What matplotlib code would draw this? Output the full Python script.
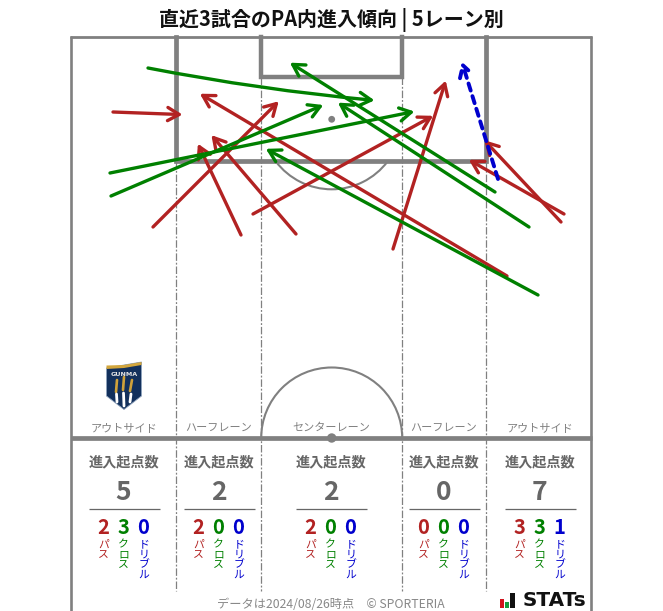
#!/usr/bin/env python3
import numpy as np
import matplotlib
matplotlib.use('Agg')
import matplotlib.pyplot as plt
from matplotlib.patches import Arc, Circle, FancyArrowPatch, Polygon, Rectangle

plt.rcParams['font.family'] = ['Noto Sans CJK JP', 'DejaVu Sans']

# Data (px on the 663x611 image)
red_starts = [(113, 112), (507, 276), (153, 227), (241, 235), (296, 234),
              (253, 214), (393, 249), (564, 214), (561, 222)]
red_ends = [(180, 114.5), (202, 95), (277, 103), (199, 146), (213, 137),
            (431, 117), (445, 83), (471, 161), (486, 142)]
green_starts = [(148, 68), (110, 173), (111, 196), (495, 192), (529, 227), (538, 295)]
green_ends = [(372, 100), (412, 112), (321, 106), (292, 64), (340, 104), (268, 150)]
blue_starts = [(498, 179)]
blue_ends = [(462.5, 64)]

lane_names = ['アウトサイド', 'ハーフレーン', 'センターレーン', 'ハーフレーン', 'アウトサイド']
lane_centers = [124, 219, 331, 444, 540]
lane_lines = [175.8, 261.2, 402, 486.2]
totals = [5, 2, 2, 0, 7]
passes = [2, 2, 2, 0, 3]
crosses = [3, 0, 0, 0, 3]
dribbles = [0, 0, 0, 0, 1]

GRAY = '#808080'
DARK = '#666666'
RED = '#b22222'
GREEN = '#008000'
BLUE = '#0000cd'

fig = plt.figure(figsize=(6.63, 6.11), dpi=100)
ax = fig.add_axes([0, 0, 1, 1])
ax.set_xlim(0, 663)
ax.set_ylim(611, 0)
ax.axis('off')

ax.text(331, 20, '直近3試合のPA内進入傾向 | 5レーン別', ha='center', va='center',
        fontsize=14.4, fontweight='bold', color='#111111')

# pitch
ax.plot([71.4, 71.4], [36, 611], color=GRAY, lw=1.9, solid_capstyle='butt')
ax.plot([591, 591], [36, 611], color=GRAY, lw=1.9, solid_capstyle='butt')
ax.plot([70, 592.3], [36.5, 36.5], color=GRAY, lw=2, solid_capstyle='butt')
ax.plot([71, 592], [438, 438], color=GRAY, lw=3.4, solid_capstyle='butt')
ax.plot([175.9, 175.9, 486.2, 486.2], [37, 161.2, 161.2, 37], color=GRAY, lw=3.4, solid_joinstyle='miter')
ax.plot([261.2, 261.2, 402.2, 402.2], [37, 77.3, 77.3, 37], color=GRAY, lw=3.2, solid_joinstyle='miter')
ax.add_patch(Circle((331.7, 119.3), 3.4, color=GRAY, lw=0))
ax.add_patch(Circle((331.7, 438), 4.7, color=GRAY, lw=0))
ax.add_patch(Arc((331.7, 119.3), 140, 140, theta1=37, theta2=143, color=GRAY, lw=1.5))
ax.add_patch(Arc((331.7, 438), 141, 141, theta1=180, theta2=360, color=GRAY, lw=1.5))

for i, x in enumerate(lane_lines):
    y0 = 77 if i in (1, 2) else 161
    ax.plot([x, x], [y0, 591], color=GRAY, lw=0.9, ls=(0, (6, 1.5, 1.5, 1.5)))

# badge
ax.add_patch(Polygon([(106.5, 368), (141.5, 362), (141.5, 396), (124, 409.5), (106.5, 396)],
                     closed=True, fc='#12305c', ec='#8fa3bd', lw=0.6, zorder=3))
ax.add_patch(Polygon([(106.5, 365.5), (124, 365), (141.5, 362), (141.5, 365), (124, 368), (106.5, 369)],
                     closed=True, fc='#d3a63c', lw=0, zorder=4))
ax.text(124, 374.5, 'GUNMA', ha='center', va='center', fontsize=4.6, fontweight='bold', color='#e6e6e6',
        family='DejaVu Sans', zorder=4)
for x0, x1, y0, y1 in ((117, 116, 380, 392), (124, 123, 377, 390), (132, 130, 380, 391)):
    ax.plot([x0, x1], [y0, y1], color='#d0a23a', lw=1.9, solid_capstyle='round', zorder=4)
for x0, x1, y0, y1 in ((116.5, 117, 394, 402), (123.5, 124, 393, 406), (131, 130, 394, 402)):
    ax.plot([x0, x1], [y0, y1], color='white', lw=2, solid_capstyle='round', zorder=4)

# zone labels and counts
for cx, name, total, p, c, d in zip(lane_centers, lane_names, totals, passes, crosses, dribbles):
    ax.text(cx, 428, name, ha='center', va='center', fontsize=8, color='#808080')
    ax.text(cx - 0.5, 462.5, '進入起点数', ha='center', va='center', fontsize=10.2, fontweight='bold', color=DARK)
    ax.text(cx - 0.5, 493, str(total), ha='center', va='center', fontsize=19, fontweight='bold', color=DARK)
    ax.plot([cx - 35.3, cx + 35.7], [508.5, 508.5], color=DARK, lw=0.9, solid_capstyle='butt')
    for dx, val, col, lab in zip((-20.7, -0.7, 19.3), (p, c, d), (RED, GREEN, BLUE), ('パス', 'クロス', 'ドリブル')):
        ax.text(cx + dx, 527, str(val), ha='center', va='center', fontsize=14.5, fontweight='bold', color=col)
        ax.text(cx + dx + 0.5, 539.5, '\n'.join(lab), ha='center', va='top', fontsize=7.8, color=col, linespacing=1.0)

# arrows
def draw_arrows(starts, ends, color, ls='-', rad=0.0, lw=2.4, z=5):
    for s, e in zip(starts, ends):
        s = np.array(s, dtype=float)
        e = np.array(e, dtype=float)
        # the '->' head stops short of its end point, so push the tip out a bit
        tip = e + (e - s) / np.hypot(*(e - s)) * 2.5
        ax.add_patch(FancyArrowPatch(s, tip, arrowstyle='->,head_length=6.6,head_width=3.8', color=color,
                                     lw=lw, ls=ls, mutation_scale=1.25, shrinkA=0, shrinkB=0,
                                     connectionstyle=f'arc3,rad={rad}', zorder=z))

draw_arrows(red_starts, red_ends, RED, z=5)
draw_arrows(green_starts[:1], green_ends[:1], GREEN, rad=0.025, z=6)
draw_arrows(green_starts[1:], green_ends[1:], GREEN, z=6)
draw_arrows(blue_starts, blue_ends, BLUE, ls=(0, (1.9, 1.5)), lw=2.8, z=7)

# footer
ax.text(331, 605, 'データは2024/08/26時点　© SPORTERIA', ha='center', va='center', fontsize=8.8, color='#888888')
for x0, y_top, w, col in ((499.5, 599, 4.5, '#d0121b'), (504.5, 602, 4.5, '#159a3c'), (509.5, 593, 5.5, '#111111')):
    ax.add_patch(Rectangle((x0, y_top), w, 607.7 - y_top, fc=col, lw=0))
ax.text(522.5, 601, 'STATs', ha='left', va='center', fontsize=14.4, fontweight='bold', color='#111111',
        family='DejaVu Sans')

fig.savefig('out.png', dpi=100)
